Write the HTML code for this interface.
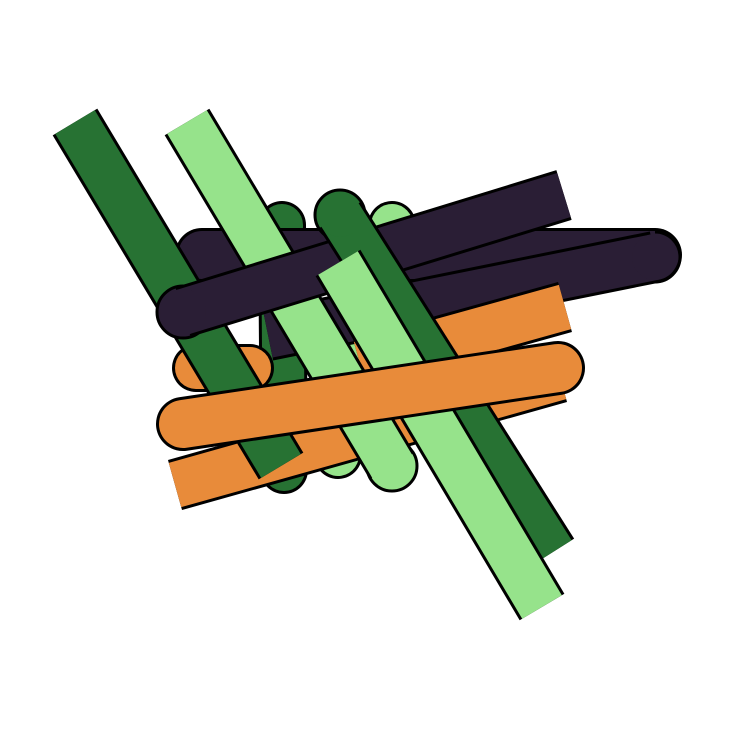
<!DOCTYPE html>
<html><head><meta charset="utf-8"><style>html,body{margin:0;padding:0;background:#fff}svg{display:block}</style></head>
<body>
<svg width="731" height="731" viewBox="0 0 731 731">
 <line x1="282" y1="225" x2="284" y2="470" stroke="#000" stroke-width="48" stroke-linecap="round"/>
 <line x1="282" y1="225" x2="284" y2="470" stroke="#277233" stroke-width="42" stroke-linecap="round"/>
 <line x1="392" y1="225" x2="338" y2="455" stroke="#000" stroke-width="48" stroke-linecap="round"/>
 <line x1="392" y1="225" x2="338" y2="455" stroke="#96e38b" stroke-width="42" stroke-linecap="round"/>
 <line x1="202" y1="255" x2="655" y2="255" stroke="#000" stroke-width="54" stroke-linecap="round"/>
 <line x1="202" y1="255" x2="655" y2="255" stroke="#2a1e35" stroke-width="48" stroke-linecap="round"/>
 <line x1="196" y1="368" x2="250" y2="368" stroke="#000" stroke-width="48" stroke-linecap="round"/>
 <line x1="196" y1="368" x2="250" y2="368" stroke="#e88b3a" stroke-width="42" stroke-linecap="round"/>
 <!-- purple band 2 (mostly hidden at left) -->
 <line x1="268" y1="335" x2="655" y2="257" stroke="#000" stroke-width="52"/>
 <line x1="268" y1="335" x2="655" y2="257" stroke="#2a1e35" stroke-width="46"/>
 <circle cx="655" cy="257" r="23" fill="#2a1e35"/>
 <path d="M655,232 A25,25 0 0 1 655,282" fill="none" stroke="#000" stroke-width="3"/>
 <!-- orange rect A -->
 <line x1="175" y1="485" x2="560" y2="377" stroke="#000" stroke-width="52"/>
 <line x1="175" y1="485" x2="560" y2="377" stroke="#e88b3a" stroke-width="46"/>
 <!-- orange rect B -->
 <line x1="360" y1="364" x2="565" y2="307" stroke="#000" stroke-width="52"/>
 <line x1="360" y1="364" x2="565" y2="307" stroke="#e88b3a" stroke-width="46"/>
 <line x1="75" y1="122" x2="281" y2="466" stroke="#000" stroke-width="52"/>
 <line x1="75" y1="122" x2="281" y2="466" stroke="#277233" stroke-width="46"/>
 <circle cx="392" cy="466" r="25" fill="#96e38b" stroke="#000" stroke-width="3"/>
 <line x1="187" y1="122" x2="392" y2="466" stroke="#000" stroke-width="52"/>
 <line x1="187" y1="122" x2="392" y2="466" stroke="#96e38b" stroke-width="46"/>
 <circle cx="392" cy="466" r="23" fill="#96e38b"/>
 <circle cx="183" cy="312" r="26" fill="#2a1e35" stroke="#000" stroke-width="3"/>
 <line x1="183" y1="312" x2="564" y2="195" stroke="#000" stroke-width="52"/>
 <line x1="183" y1="312" x2="564" y2="195" stroke="#2a1e35" stroke-width="46"/>
 <circle cx="183" cy="312" r="23" fill="#2a1e35"/>
 <circle cx="340" cy="215" r="25" fill="#277233" stroke="#000" stroke-width="3"/>
 <line x1="340" y1="215" x2="553" y2="552" stroke="#000" stroke-width="50"/>
 <line x1="340" y1="215" x2="553" y2="552" stroke="#277233" stroke-width="44"/>
 <circle cx="340" cy="215" r="22" fill="#277233"/>
 <line x1="338" y1="263" x2="542" y2="607" stroke="#000" stroke-width="52"/>
 <line x1="338" y1="263" x2="542" y2="607" stroke="#96e38b" stroke-width="46"/>
 <line x1="183" y1="424" x2="558" y2="368" stroke="#000" stroke-width="54" stroke-linecap="round"/>
 <line x1="183" y1="424" x2="558" y2="368" stroke="#e88b3a" stroke-width="48" stroke-linecap="round"/>
</svg>
</body></html>
